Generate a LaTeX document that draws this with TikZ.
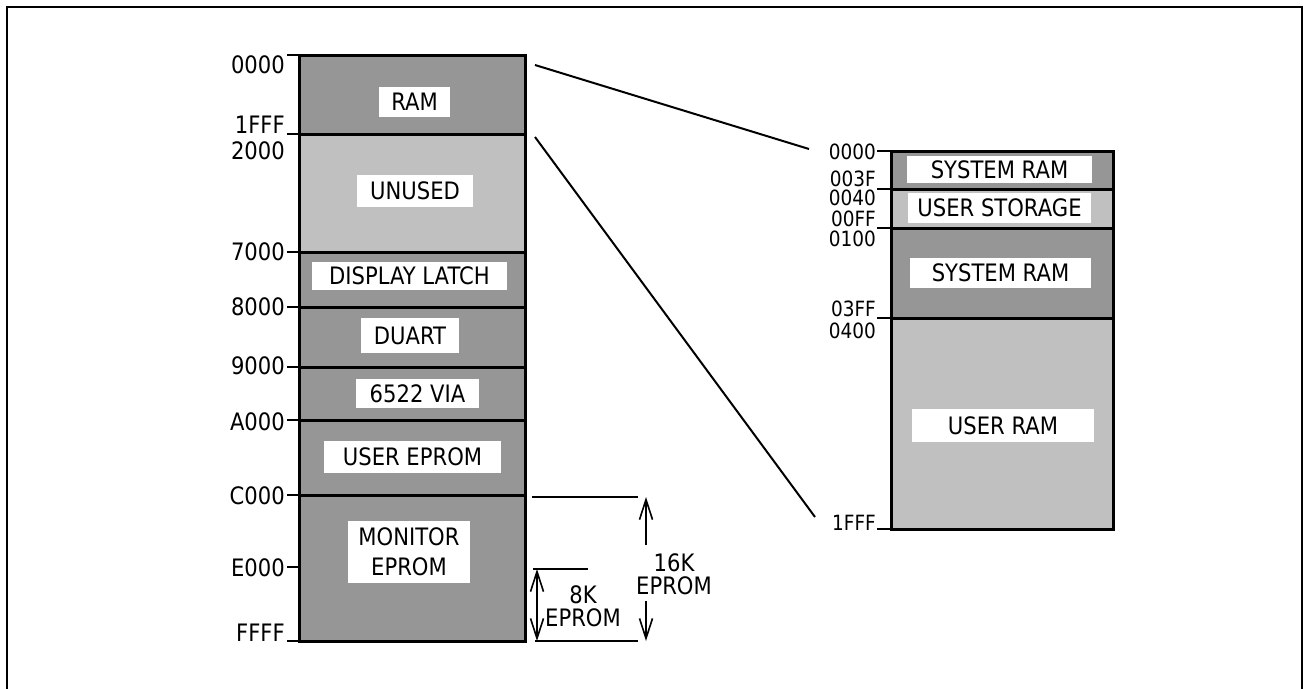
\documentclass[tikz,border=0pt]{standalone}
\usepackage{fontspec}
\setmainfont{DejaVu Sans}[FakeStretch=0.88]
\usetikzlibrary{arrows.meta}
\definecolor{dk}{HTML}{969696}
\definecolor{lt}{HTML}{C0C0C0}
\begin{document}
\begin{tikzpicture}[x=1pt,y=-1pt,
  seg/.style={draw=black,line width=3pt},
  lbl/.style={fill=white,inner sep=0pt,font=\fontsize{24}{30}\selectfont,align=center},
  addr/.style={anchor=base east,inner sep=0pt,font=\fontsize{24}{24}\selectfont},
  raddr/.style={anchor=base east,inner sep=0pt,font=\fontsize{21}{21}\selectfont},
  tick/.style={line width=2pt},
  conn/.style={line width=2pt},
  ext/.style={line width=2pt},
  dimtip/.style={line width=1.6pt,-{Straight Barb[length=20pt,width=13pt]}},
  dimtxt/.style={inner sep=0pt,align=center,font=\fontsize{24}{23}\selectfont}]
\useasboundingbox (0,0) rectangle (1306,688);
% outer frame
\draw[line width=2.5pt] (7,700) -- (7,7) -- (1302,7) -- (1302,700);

% ---------- left memory map ----------
\filldraw[seg,fill=dk] (299,55) rectangle (525,134);
\filldraw[seg,fill=lt] (299,134) rectangle (525,252);
\filldraw[seg,fill=dk] (299,252) rectangle (525,307);
\filldraw[seg,fill=dk] (299,307) rectangle (525,367);
\filldraw[seg,fill=dk] (299,367) rectangle (525,420);
\filldraw[seg,fill=dk] (299,420) rectangle (525,495);
\filldraw[seg,fill=dk] (299,495) rectangle (525,641);

\node[lbl,minimum width=71pt,minimum height=30pt] (ram) at (414.5,102) {RAM};
\node[lbl,minimum width=116pt,minimum height=32pt] (unused) at (415,191) {UNUSED};
\node[lbl,minimum width=195pt,minimum height=28pt] (disp) at (409.5,276) {DISPLAY LATCH};
\node[lbl,minimum width=98pt,minimum height=35pt] (duart) at (410,335.5) {DUART};
\node[lbl,minimum width=123pt,minimum height=29pt] (via) at (417.5,393.5) {6522 VIA};
\node[lbl,minimum width=177pt,minimum height=32pt] (ueprom) at (412.5,457) {USER EPROM};
\node[lbl,minimum width=122pt,minimum height=62pt] (meprom) at (409,552) {MONITOR\\EPROM};

\foreach \y in {55,134,252,307,367,420,495,567,641}
  \draw[tick] (287,\y) -- (299,\y);
\node[addr] (l0000) at (285,73) {0000};
\node[addr] (l1fff) at (285,133) {1FFF};
\node[addr] (l2000) at (285,159) {2000};
\node[addr] (l7000) at (285,260) {7000};
\node[addr] (l8000) at (285,315) {8000};
\node[addr] (l9000) at (285,374) {9000};
\node[addr] (la000) at (285,430) {A000};
\node[addr] (lc000) at (285,504) {C000};
\node[addr] (le000) at (285,576) {E000};
\node[addr] (lffff) at (285,641) {FFFF};

% ---------- dimensions ----------
\coordinate (c0) at (532,497);
\coordinate (c1) at (638,497);
\coordinate (e0) at (533,569);
\coordinate (e1) at (588,569);
\coordinate (f0) at (535,641);
\coordinate (f1) at (638,641);
\draw[ext] (c0) -- (c1);
\draw[ext] (e0) -- (e1);
\draw[ext] (f0) -- (f1);
\coordinate (k16a) at (646,545);
\coordinate (k16b) at (646,497);
\coordinate (k16c) at (646,601);
\coordinate (k16d) at (646,641);
\draw[dimtip] (k16a) -- (k16b);
\draw[dimtip] (k16c) -- (k16d);
\coordinate (k8a) at (537,569);
\coordinate (k8b) at (537,641);
\draw[line width=1.6pt,{Straight Barb[length=20pt,width=13pt]}-{Straight Barb[length=20pt,width=13pt]}] (k8a) -- (k8b);
\node[dimtxt] (t16) at (674,574) {16K\\EPROM};
\node[dimtxt] (t8) at (583,606) {8K\\EPROM};

% ---------- right memory map ----------
\filldraw[seg,fill=dk] (891,151) rectangle (1113,189);
\filldraw[seg,fill=lt] (891,189) rectangle (1113,228);
\filldraw[seg,fill=dk] (891,228) rectangle (1113,318);
\filldraw[seg,fill=lt] (891,318) rectangle (1113,529);

\node[lbl,minimum width=185pt,minimum height=27pt] (sys1) at (999.5,169.5) {SYSTEM RAM};
\node[lbl,minimum width=183pt,minimum height=30pt] (ustor) at (999.5,208) {USER STORAGE};
\node[lbl,minimum width=181pt,minimum height=30pt] (sys2) at (1000.5,273) {SYSTEM RAM};
\node[lbl,minimum width=182pt,minimum height=33pt] (uram) at (1003,425.5) {USER RAM};

\foreach \y in {151,189,228,318,529}
  \draw[tick] (877,\y) -- (891,\y);
\node[raddr] (r0000) at (876,159) {0000};
\node[raddr] (r003f) at (876,186) {003F};
\node[raddr] (r0040) at (876,205) {0040};
\node[raddr] (r00ff) at (876,226) {00FF};
\node[raddr] (r0100) at (876,246) {0100};
\node[raddr] (r03ff) at (876,316) {03FF};
\node[raddr] (r0400) at (876,338) {0400};
\node[raddr] (r1fff) at (876,530) {1FFF};

% ---------- zoom connectors ----------
\coordinate (za) at (535,65);
\coordinate (zb) at (809,149);
\coordinate (zc) at (535,137);
\coordinate (zd) at (815,517);
\draw[conn] (za) -- (zb);
\draw[conn] (zc) -- (zd);
\end{tikzpicture}
\end{document}
